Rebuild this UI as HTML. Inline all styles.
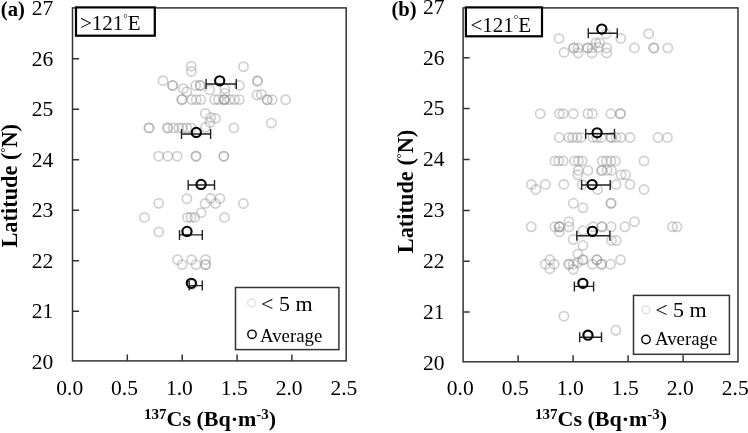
<!DOCTYPE html>
<html><head><meta charset="utf-8"><style>
html,body{margin:0;padding:0;background:#fff;}
svg{display:block;filter:grayscale(100%);}
text{font-family:"Liberation Serif",serif;fill:#000;}
</style></head><body>
<svg width="748" height="433" viewBox="0 0 748 433">
<rect width="748" height="433" fill="#fff"/>
<g fill="none" stroke="rgba(150,150,150,0.45)" stroke-width="1.7">
<circle cx="191.3" cy="66.2" r="4.6"/>
<circle cx="243.5" cy="66.7" r="4.6"/>
<circle cx="191.3" cy="71.5" r="4.6"/>
<circle cx="163.0" cy="80.7" r="4.6"/>
<circle cx="257.5" cy="81.0" r="4.6"/>
<circle cx="257.5" cy="81.0" r="4.6"/>
<circle cx="172.6" cy="85.5" r="4.6"/>
<circle cx="172.6" cy="85.5" r="4.6"/>
<circle cx="195.7" cy="85.5" r="4.6"/>
<circle cx="200.2" cy="85.5" r="4.6"/>
<circle cx="200.2" cy="85.5" r="4.6"/>
<circle cx="239.3" cy="85.5" r="4.6"/>
<circle cx="183.3" cy="88.7" r="4.6"/>
<circle cx="186.8" cy="91.8" r="4.6"/>
<circle cx="209.7" cy="89.9" r="4.6"/>
<circle cx="224.9" cy="88.7" r="4.6"/>
<circle cx="224.9" cy="93.1" r="4.6"/>
<circle cx="256.9" cy="95.0" r="4.6"/>
<circle cx="261.4" cy="94.4" r="4.6"/>
<circle cx="181.9" cy="99.6" r="4.6"/>
<circle cx="181.9" cy="99.6" r="4.6"/>
<circle cx="191.8" cy="99.6" r="4.6"/>
<circle cx="196.2" cy="99.6" r="4.6"/>
<circle cx="200.8" cy="99.6" r="4.6"/>
<circle cx="214.6" cy="99.6" r="4.6"/>
<circle cx="218.5" cy="99.6" r="4.6"/>
<circle cx="224.3" cy="99.6" r="4.6"/>
<circle cx="224.3" cy="99.6" r="4.6"/>
<circle cx="224.3" cy="99.6" r="4.6"/>
<circle cx="229.6" cy="99.6" r="4.6"/>
<circle cx="234.5" cy="99.6" r="4.6"/>
<circle cx="239.3" cy="99.6" r="4.6"/>
<circle cx="267.1" cy="99.7" r="4.6"/>
<circle cx="267.1" cy="99.7" r="4.6"/>
<circle cx="272.2" cy="99.7" r="4.6"/>
<circle cx="285.6" cy="99.7" r="4.6"/>
<circle cx="205.3" cy="113.4" r="4.6"/>
<circle cx="210.8" cy="117.5" r="4.6"/>
<circle cx="215.4" cy="118.4" r="4.6"/>
<circle cx="210.0" cy="122.5" r="4.6"/>
<circle cx="205.5" cy="127.3" r="4.6"/>
<circle cx="149.0" cy="127.9" r="4.6"/>
<circle cx="149.0" cy="127.9" r="4.6"/>
<circle cx="167.6" cy="127.9" r="4.6"/>
<circle cx="167.6" cy="127.9" r="4.6"/>
<circle cx="173.3" cy="127.9" r="4.6"/>
<circle cx="178.8" cy="127.9" r="4.6"/>
<circle cx="182.2" cy="127.9" r="4.6"/>
<circle cx="186.7" cy="127.9" r="4.6"/>
<circle cx="191.1" cy="127.9" r="4.6"/>
<circle cx="233.8" cy="127.9" r="4.6"/>
<circle cx="271.3" cy="123.1" r="4.6"/>
<circle cx="158.6" cy="156.2" r="4.6"/>
<circle cx="167.8" cy="156.2" r="4.6"/>
<circle cx="177.2" cy="156.2" r="4.6"/>
<circle cx="196.0" cy="156.2" r="4.6"/>
<circle cx="196.0" cy="156.2" r="4.6"/>
<circle cx="223.8" cy="156.2" r="4.6"/>
<circle cx="223.8" cy="156.2" r="4.6"/>
<circle cx="186.9" cy="198.7" r="4.6"/>
<circle cx="210.6" cy="198.4" r="4.6"/>
<circle cx="219.9" cy="198.4" r="4.6"/>
<circle cx="158.7" cy="203.3" r="4.6"/>
<circle cx="205.2" cy="203.4" r="4.6"/>
<circle cx="215.5" cy="203.5" r="4.6"/>
<circle cx="243.4" cy="203.5" r="4.6"/>
<circle cx="201.1" cy="212.7" r="4.6"/>
<circle cx="144.4" cy="217.4" r="4.6"/>
<circle cx="187.5" cy="217.4" r="4.6"/>
<circle cx="191.0" cy="217.4" r="4.6"/>
<circle cx="194.7" cy="217.4" r="4.6"/>
<circle cx="224.4" cy="217.4" r="4.6"/>
<circle cx="158.7" cy="231.9" r="4.6"/>
<circle cx="177.6" cy="259.7" r="4.6"/>
<circle cx="191.6" cy="259.7" r="4.6"/>
<circle cx="205.6" cy="259.7" r="4.6"/>
<circle cx="182.1" cy="264.6" r="4.6"/>
<circle cx="196.0" cy="264.6" r="4.6"/>
<circle cx="205.6" cy="264.6" r="4.6"/>
<circle cx="205.6" cy="264.6" r="4.6"/>
<circle cx="192.5" cy="284.5" r="4.6"/>
</g>
<g stroke="#222" stroke-width="1.4" fill="none">
<path d="M206.1 84.0H236.3M206.1 79.0V89.0M236.3 79.0V89.0"/>
<path d="M181.5 134.0H210.6M181.5 129.0V139.0M210.6 129.0V139.0"/>
<path d="M188.2 185.0H214.5M188.2 180.0V190.0M214.5 180.0V190.0"/>
<path d="M179.5 234.9H202.3M179.5 229.9V239.9M202.3 229.9V239.9"/>
<path d="M189.2 285.6H202.3M189.2 280.6V290.6M202.3 280.6V290.6"/>
</g>
<g stroke="#000" stroke-width="2.1" fill="none">
<circle cx="219.7" cy="80.8" r="4.6"/>
<circle cx="196.3" cy="132.4" r="4.6"/>
<circle cx="201.1" cy="184.4" r="4.6"/>
<circle cx="187.0" cy="231.4" r="4.6"/>
<circle cx="191.3" cy="283.3" r="4.6"/>
</g>
<rect x="72.5" y="7.9" width="273.7" height="353.0" fill="none" stroke="#333" stroke-width="1.5"/>
<path d="M72.5 58.8h6.6M72.5 109.3h6.6M72.5 159.8h6.6M72.5 210.3h6.6M72.5 260.8h6.6M72.5 311.3h6.6M127.3 360.9v-6.5M182.2 360.9v-6.5M237.1 360.9v-6.5M291.9 360.9v-6.5" stroke="#333" stroke-width="1.5" fill="none"/>
<g fill="none" stroke="rgba(150,150,150,0.45)" stroke-width="1.7">
<circle cx="559.0" cy="38.4" r="4.6"/>
<circle cx="573.7" cy="47.9" r="4.6"/>
<circle cx="573.7" cy="47.9" r="4.6"/>
<circle cx="578.1" cy="47.9" r="4.6"/>
<circle cx="587.6" cy="47.9" r="4.6"/>
<circle cx="587.6" cy="47.9" r="4.6"/>
<circle cx="592.0" cy="47.9" r="4.6"/>
<circle cx="595.9" cy="42.9" r="4.6"/>
<circle cx="599.7" cy="42.9" r="4.6"/>
<circle cx="598.4" cy="47.3" r="4.6"/>
<circle cx="606.0" cy="34.0" r="4.6"/>
<circle cx="606.7" cy="47.9" r="4.6"/>
<circle cx="620.7" cy="38.4" r="4.6"/>
<circle cx="634.4" cy="47.9" r="4.6"/>
<circle cx="648.7" cy="33.7" r="4.6"/>
<circle cx="653.8" cy="47.9" r="4.6"/>
<circle cx="653.8" cy="47.9" r="4.6"/>
<circle cx="667.8" cy="47.9" r="4.6"/>
<circle cx="564.1" cy="52.4" r="4.6"/>
<circle cx="578.1" cy="53.0" r="4.6"/>
<circle cx="592.0" cy="53.0" r="4.6"/>
<circle cx="606.7" cy="53.0" r="4.6"/>
<circle cx="540.2" cy="113.7" r="4.6"/>
<circle cx="559.3" cy="113.7" r="4.6"/>
<circle cx="563.1" cy="113.7" r="4.6"/>
<circle cx="573.3" cy="113.7" r="4.6"/>
<circle cx="587.9" cy="113.7" r="4.6"/>
<circle cx="592.3" cy="113.7" r="4.6"/>
<circle cx="610.8" cy="113.7" r="4.6"/>
<circle cx="620.4" cy="113.7" r="4.6"/>
<circle cx="620.4" cy="113.7" r="4.6"/>
<circle cx="559.3" cy="137.5" r="4.6"/>
<circle cx="568.8" cy="137.5" r="4.6"/>
<circle cx="572.6" cy="137.5" r="4.6"/>
<circle cx="577.1" cy="137.5" r="4.6"/>
<circle cx="580.9" cy="137.5" r="4.6"/>
<circle cx="593.0" cy="137.5" r="4.6"/>
<circle cx="596.8" cy="137.5" r="4.6"/>
<circle cx="601.2" cy="137.5" r="4.6"/>
<circle cx="611.2" cy="137.5" r="4.6"/>
<circle cx="611.2" cy="137.5" r="4.6"/>
<circle cx="616.0" cy="137.5" r="4.6"/>
<circle cx="621.0" cy="137.5" r="4.6"/>
<circle cx="630.0" cy="137.5" r="4.6"/>
<circle cx="657.9" cy="137.5" r="4.6"/>
<circle cx="667.4" cy="137.5" r="4.6"/>
<circle cx="554.9" cy="160.9" r="4.6"/>
<circle cx="558.7" cy="160.9" r="4.6"/>
<circle cx="563.2" cy="160.9" r="4.6"/>
<circle cx="574.6" cy="160.9" r="4.6"/>
<circle cx="578.4" cy="160.9" r="4.6"/>
<circle cx="582.2" cy="160.9" r="4.6"/>
<circle cx="602.3" cy="160.9" r="4.6"/>
<circle cx="606.5" cy="160.9" r="4.6"/>
<circle cx="610.9" cy="160.9" r="4.6"/>
<circle cx="615.4" cy="160.9" r="4.6"/>
<circle cx="644.0" cy="160.9" r="4.6"/>
<circle cx="578.4" cy="170.4" r="4.6"/>
<circle cx="587.9" cy="170.4" r="4.6"/>
<circle cx="601.7" cy="170.4" r="4.6"/>
<circle cx="601.7" cy="170.4" r="4.6"/>
<circle cx="607.0" cy="170.4" r="4.6"/>
<circle cx="611.5" cy="170.4" r="4.6"/>
<circle cx="577.8" cy="174.8" r="4.6"/>
<circle cx="621.1" cy="174.8" r="4.6"/>
<circle cx="625.6" cy="174.8" r="4.6"/>
<circle cx="531.4" cy="184.4" r="4.6"/>
<circle cx="545.4" cy="184.4" r="4.6"/>
<circle cx="563.8" cy="184.4" r="4.6"/>
<circle cx="582.2" cy="184.4" r="4.6"/>
<circle cx="616.0" cy="184.4" r="4.6"/>
<circle cx="630.0" cy="184.4" r="4.6"/>
<circle cx="535.9" cy="189.5" r="4.6"/>
<circle cx="597.5" cy="189.5" r="4.6"/>
<circle cx="644.0" cy="189.5" r="4.6"/>
<circle cx="573.3" cy="203.3" r="4.6"/>
<circle cx="611.0" cy="203.3" r="4.6"/>
<circle cx="611.0" cy="203.3" r="4.6"/>
<circle cx="582.9" cy="207.8" r="4.6"/>
<circle cx="568.9" cy="221.7" r="4.6"/>
<circle cx="634.5" cy="221.7" r="4.6"/>
<circle cx="531.2" cy="226.8" r="4.6"/>
<circle cx="554.9" cy="226.8" r="4.6"/>
<circle cx="559.4" cy="226.8" r="4.6"/>
<circle cx="559.4" cy="226.8" r="4.6"/>
<circle cx="559.4" cy="226.8" r="4.6"/>
<circle cx="568.9" cy="226.8" r="4.6"/>
<circle cx="593.0" cy="226.8" r="4.6"/>
<circle cx="601.9" cy="226.8" r="4.6"/>
<circle cx="601.9" cy="226.8" r="4.6"/>
<circle cx="611.2" cy="226.8" r="4.6"/>
<circle cx="624.9" cy="226.8" r="4.6"/>
<circle cx="672.5" cy="226.8" r="4.6"/>
<circle cx="677.0" cy="226.8" r="4.6"/>
<circle cx="559.4" cy="231.9" r="4.6"/>
<circle cx="582.9" cy="230.6" r="4.6"/>
<circle cx="573.3" cy="239.5" r="4.6"/>
<circle cx="611.5" cy="240.5" r="4.6"/>
<circle cx="616.3" cy="240.5" r="4.6"/>
<circle cx="582.9" cy="245.5" r="4.6"/>
<circle cx="545.4" cy="264.2" r="4.6"/>
<circle cx="554.3" cy="264.2" r="4.6"/>
<circle cx="549.8" cy="259.8" r="4.6"/>
<circle cx="549.8" cy="268.7" r="4.6"/>
<circle cx="568.9" cy="264.2" r="4.6"/>
<circle cx="568.9" cy="264.2" r="4.6"/>
<circle cx="573.3" cy="264.2" r="4.6"/>
<circle cx="573.3" cy="269.3" r="4.6"/>
<circle cx="577.8" cy="254.0" r="4.6"/>
<circle cx="577.8" cy="262.3" r="4.6"/>
<circle cx="582.9" cy="259.8" r="4.6"/>
<circle cx="582.9" cy="259.8" r="4.6"/>
<circle cx="592.4" cy="264.2" r="4.6"/>
<circle cx="596.8" cy="259.8" r="4.6"/>
<circle cx="596.8" cy="259.8" r="4.6"/>
<circle cx="601.5" cy="264.2" r="4.6"/>
<circle cx="601.5" cy="264.2" r="4.6"/>
<circle cx="610.5" cy="264.2" r="4.6"/>
<circle cx="620.5" cy="259.8" r="4.6"/>
<circle cx="563.9" cy="316.2" r="4.6"/>
<circle cx="615.9" cy="330.3" r="4.6"/>
<circle cx="587.3" cy="334.9" r="4.6"/>
</g>
<g stroke="#222" stroke-width="1.4" fill="none">
<path d="M588.3 33.3H617.3M588.3 28.3V38.3M617.3 28.3V38.3"/>
<path d="M585.7 133.7H614.5M585.7 128.7V138.7M614.5 128.7V138.7"/>
<path d="M581.6 185.0H610.2M581.6 180.0V190.0M610.2 180.0V190.0"/>
<path d="M576.8 235.7H609.9M576.8 230.7V240.7M609.9 230.7V240.7"/>
<path d="M574.4 286.4H593.6M574.4 281.4V291.4M593.6 281.4V291.4"/>
<path d="M579.7 337.3H601.5M579.7 332.3V342.3M601.5 332.3V342.3"/>
</g>
<g stroke="#000" stroke-width="2.1" fill="none">
<circle cx="601.8" cy="29.1" r="4.6"/>
<circle cx="597.1" cy="132.8" r="4.6"/>
<circle cx="592.1" cy="184.6" r="4.6"/>
<circle cx="592.4" cy="231.3" r="4.6"/>
<circle cx="582.9" cy="283.3" r="4.6"/>
<circle cx="588.0" cy="335.2" r="4.6"/>
</g>
<rect x="463.1" y="7.9" width="274.9" height="353.9" fill="none" stroke="#333" stroke-width="1.5"/>
<path d="M463.1 57.7h6.6M463.1 108.6h6.6M463.1 159.5h6.6M463.1 210.4h6.6M463.1 261.3h6.6M463.1 312.1h6.6M518.1 361.8v-6.5M573.1 361.8v-6.5M628.1 361.8v-6.5M683.1 361.8v-6.5" stroke="#333" stroke-width="1.5" fill="none"/>
<rect x="76" y="7.4" width="78.8" height="28.3" fill="#fff" stroke="#000" stroke-width="2.2"/>
<rect x="465.9" y="7.4" width="76.1" height="28.9" fill="#fff" stroke="#000" stroke-width="2.2"/>
<text x="80" y="30.1" font-size="21">&gt;121<tspan font-size="11" dy="-8.5">&#176;</tspan><tspan dy="8.5">E</tspan></text>
<text x="470.5" y="31.9" font-size="21">&lt;121<tspan font-size="11" dy="-8.5">&#176;</tspan><tspan dy="8.5">E</tspan></text>
<rect x="235.5" y="287.5" width="103.4" height="62.1" fill="#fff" stroke="#333" stroke-width="1.5"/>
<rect x="633.5" y="295.4" width="95.9" height="58.9" fill="#fff" stroke="#333" stroke-width="1.5"/>
<circle cx="251.6" cy="302.9" r="3.9" fill="none" stroke="#ddd" stroke-width="1.3"/>
<circle cx="252" cy="334.3" r="4.2" fill="none" stroke="#000" stroke-width="1.4"/>
<circle cx="646" cy="309.8" r="3.9" fill="none" stroke="#ddd" stroke-width="1.3"/>
<circle cx="646" cy="339.5" r="4.2" fill="none" stroke="#000" stroke-width="1.4"/>
<text x="261" y="311.2" font-size="22">&lt; 5 m</text>
<text x="260" y="341.7" font-size="18.8">Average</text>
<text x="655.2" y="317" font-size="22">&lt; 5 m</text>
<text x="655" y="344.8" font-size="18.8">Average</text>
<g font-size="21.5">
<text x="53.2" y="15.1" text-anchor="end">27</text>
<text x="53.2" y="65.6" text-anchor="end">26</text>
<text x="53.2" y="116.1" text-anchor="end">25</text>
<text x="53.2" y="166.6" text-anchor="end">24</text>
<text x="53.2" y="217.1" text-anchor="end">23</text>
<text x="53.2" y="267.6" text-anchor="end">22</text>
<text x="53.2" y="318.1" text-anchor="end">21</text>
<text x="53.2" y="368.6" text-anchor="end">20</text>
<text x="444.5" y="13.7" text-anchor="end">27</text>
<text x="444.5" y="64.5" text-anchor="end">26</text>
<text x="444.5" y="115.4" text-anchor="end">25</text>
<text x="444.5" y="166.3" text-anchor="end">24</text>
<text x="444.5" y="217.2" text-anchor="end">23</text>
<text x="444.5" y="268.1" text-anchor="end">22</text>
<text x="444.5" y="318.9" text-anchor="end">21</text>
<text x="444.5" y="369.8" text-anchor="end">20</text>
<text x="69.7" y="395.0" text-anchor="middle">0.0</text>
<text x="124.5" y="395.0" text-anchor="middle">0.5</text>
<text x="179.4" y="395.0" text-anchor="middle">1.0</text>
<text x="234.2" y="395.0" text-anchor="middle">1.5</text>
<text x="289.1" y="395.0" text-anchor="middle">2.0</text>
<text x="343.9" y="395.0" text-anchor="middle">2.5</text>
<text x="460.3" y="395.0" text-anchor="middle">0.0</text>
<text x="515.3" y="395.0" text-anchor="middle">0.5</text>
<text x="570.3" y="395.0" text-anchor="middle">1.0</text>
<text x="625.3" y="395.0" text-anchor="middle">1.5</text>
<text x="680.3" y="395.0" text-anchor="middle">2.0</text>
<text x="735.3" y="395.0" text-anchor="middle">2.5</text>
</g>
<text x="0.8" y="15.8" font-size="20.6" font-weight="bold">(a)</text>
<text x="391.4" y="15.8" font-size="20.6" font-weight="bold">(b)</text>
<text x="144.0" y="426" font-size="22" font-weight="bold"><tspan font-size="15" dy="-7">137</tspan><tspan dy="7">Cs (Bq&#183;m</tspan><tspan font-size="15" dy="-7">-3</tspan><tspan dy="7">)</tspan></text>
<text x="535.0" y="426" font-size="22" font-weight="bold"><tspan font-size="15" dy="-7">137</tspan><tspan dy="7">Cs (Bq&#183;m</tspan><tspan font-size="15" dy="-7">-3</tspan><tspan dy="7">)</tspan></text>
<text transform="translate(16.8 247.6) rotate(-90)" font-size="22.4" font-weight="bold">Latitude (<tspan font-size="12" dy="-8">&#176;</tspan><tspan dy="8">N)</tspan></text>
<text transform="translate(413.2 253.3) rotate(-90)" font-size="22.4" font-weight="bold">Latitude (<tspan font-size="12" dy="-8">&#176;</tspan><tspan dy="8">N)</tspan></text>
</svg></body></html>
